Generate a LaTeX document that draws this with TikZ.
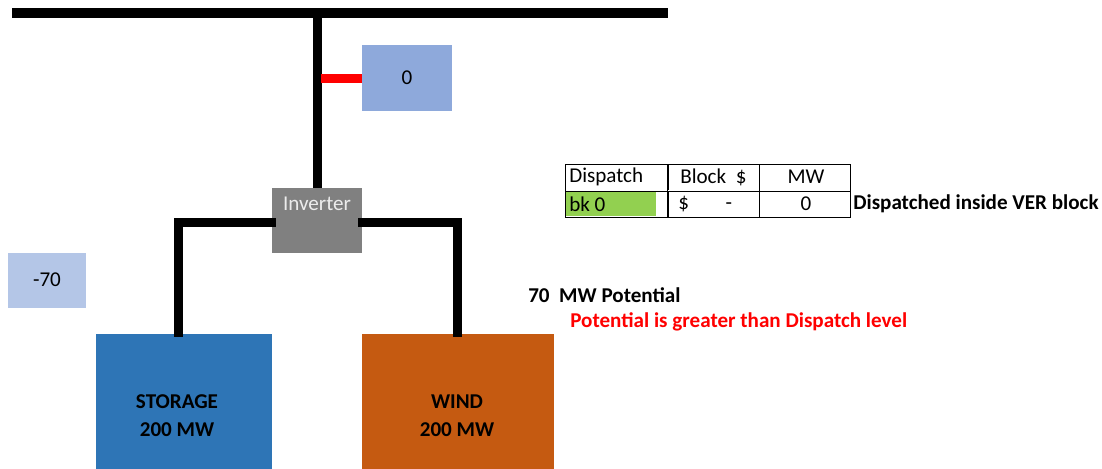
\documentclass[tikz,border=0pt]{standalone}
\usepackage{fontspec}
\setmainfont{Carlito}
\usetikzlibrary{positioning,calc}
\definecolor{busblue}{HTML}{8EA9DB}
\definecolor{paleblue}{HTML}{B4C6E7}
\definecolor{storblue}{HTML}{2E75B6}
\definecolor{windorange}{HTML}{C55A11}
\definecolor{invgray}{HTML}{808080}
\definecolor{bkgreen}{HTML}{92D050}

\begin{document}
\begin{tikzpicture}[x=0.025cm, y=-0.025cm,
    wire/.style={line width=9*0.025cm, black},
    box/.style={draw=white, inner sep=0pt},
    lbl/.style={inner sep=0pt, align=center, font=\fontsize{15}{20}\selectfont\bfseries},
    val/.style={inner sep=0pt, fill=#1, font=\fontsize{15}{18}\selectfont},
    tcell/.style={draw, inner sep=0pt, minimum height=26*0.025cm},
    ttext/.style={inner sep=0pt, font=\fontsize{15}{18}\selectfont},
    note/.style={anchor=west, inner sep=0pt, font=\fontsize{15}{18}\selectfont\bfseries}
]
\useasboundingbox (0,0) rectangle (1102,468);

% bus and meter
\coordinate (busL) at (12,13);
\coordinate (busR) at (668,13);
\draw[line width=10*0.025cm] (busL) -- (busR);
\node[val=busblue, minimum width=90*0.025cm, minimum height=66*0.025cm] (meter) at (407,78) {0};
\node[val=paleblue, minimum width=78*0.025cm, minimum height=55*0.025cm] (loss) at (47,280) {-70};

% inverter and sources
\node[fill=invgray, minimum width=90*0.025cm, minimum height=65*0.025cm, inner sep=0pt] (inv) at (317,220.5) {};
\node[ttext, text=white!85!gray] (invtxt) at (317,204) {Inverter};
\node[box, fill=storblue, minimum width=177*0.025cm, minimum height=140*0.025cm] (stor) at (183.5,403) {};
\node[box, fill=windorange, minimum width=193*0.025cm, minimum height=140*0.025cm] (wind) at (457.5,403) {};
\node[lbl] (storlbl) at (177,416) {STORAGE\\200 MW};
\node[lbl] (windlbl) at (457,416) {WIND\\200 MW};

% wiring
\draw[wire] (inv.north) -- (inv.north |- busL);
\draw[wire, red] ($(inv.north |- meter.west)+(4,0)$) -- (meter.west);
\draw[wire, line cap=rect] (inv.west |- 0,222) -| (stor.north -| 178,0);
\draw[wire, line cap=rect] (inv.east |- 0,222) -| (wind.north -| 457,0);

% dispatch table
\node[tcell, anchor=north west, minimum width=102*0.025cm] (dhead) at (565,164) {};
\node[tcell, anchor=north west, minimum width=91*0.025cm] (bhead) at (dhead.north east) {};
\node[tcell, anchor=north west, minimum width=91*0.025cm] (mhead) at (bhead.north east) {};
\node[tcell, anchor=north west, minimum width=102*0.025cm] (dval) at (dhead.south west) {};
\node[tcell, anchor=north west, minimum width=91*0.025cm] (bval) at (bhead.south west) {};
\node[tcell, anchor=north west, minimum width=91*0.025cm] (mval) at (mhead.south west) {};
\fill[bkgreen] ($(dval.north west)+(1,1)$) rectangle ($(dval.south west)+(91,-1)$);
\draw[white, line width=1.5*0.025cm] (dhead.south west) -- (mhead.south east);
\draw (dhead.north west) -- (dval.south west) (dhead.north east) -- (dval.south east)
      (bhead.north east) -- (bval.south east) (mhead.north east) -- (mval.south east);
\node[ttext, anchor=west] (dtxt) at (569,177) {Dispatch};
\node[ttext, anchor=west] (btxt) at (680,177) {Block\ \ \$};
\node[ttext] (mtxt) at (806,177) {MW};
\node[ttext, anchor=west] (bktxt) at (569,204) {bk 0};
\node[ttext, anchor=west] (cost) at (678,204) {\$\hspace{26pt}-};
\node[ttext] (mw) at (806,204) {0};

% notes
\node[note] (ver) at (853,204) {Dispatched inside VER block};
\node[note] (pot) at (528,295) {70\ \ MW Potential};
\node[note, text=red] (warn) at (570,322) {Potential is greater than Dispatch level};
\end{tikzpicture}
\end{document}
